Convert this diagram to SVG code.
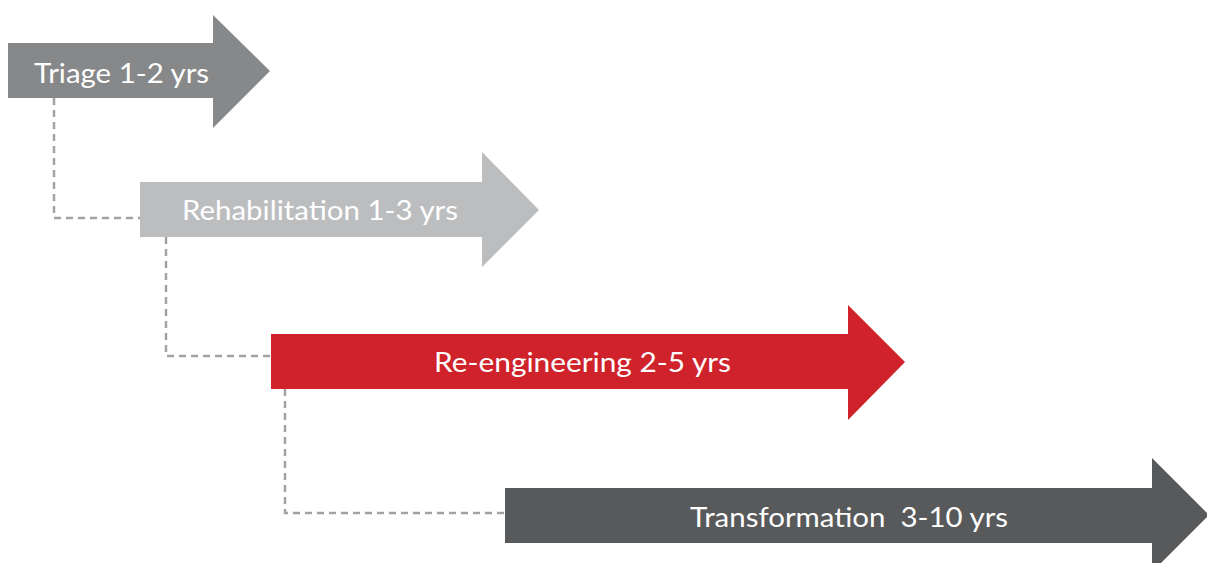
<svg xmlns="http://www.w3.org/2000/svg" width="1207" height="563" viewBox="0 0 1207 563">
<style>
.lbl{font-family:Lato,"Open Sans","Liberation Sans",sans-serif;font-size:26px;font-weight:400;fill:#ffffff}
.dash{fill:none;stroke:#a0a2a5;stroke-width:2.5;stroke-dasharray:7 5}
</style>
<rect width="1207" height="563" fill="#ffffff"/>
<g id="connectors">
<path class="dash" d="M54 98 V218 H140"/>
<path class="dash" d="M166 237 V356 H271"/>
<path class="dash" d="M285 389 V513 H505"/>
</g>
<g id="triage">
<polygon points="8,43 213,43 213,15 270,71 213,128 213,98 8,98" fill="#878889"/>
<text class="lbl" x="34" y="83" textLength="175" lengthAdjust="spacingAndGlyphs">Triage 1-2 yrs</text>
</g>
<g id="rehabilitation">
<polygon points="140,182 482,182 482,152 539,210 482,267 482,237 140,237" fill="#bcbdbf"/>
<text class="lbl" x="182" y="220" textLength="276" lengthAdjust="spacingAndGlyphs">Rehabilitation 1-3 yrs</text>
</g>
<g id="reengineering">
<polygon points="271,334 848,334 848,305 905,362 848,420 848,389 271,389" fill="#d0222b"/>
<text class="lbl" x="434" y="372" textLength="297" lengthAdjust="spacingAndGlyphs">Re-engineering 2-5 yrs</text>
</g>
<g id="transformation">
<polygon points="505,488 1152,488 1152,458 1209,515 1152,572 1152,543 505,543" fill="#58595b"/>
<text class="lbl" x="690" y="527" textLength="318" lengthAdjust="spacingAndGlyphs" xml:space="preserve">Transformation  3-10 yrs</text>
</g>
</svg>
